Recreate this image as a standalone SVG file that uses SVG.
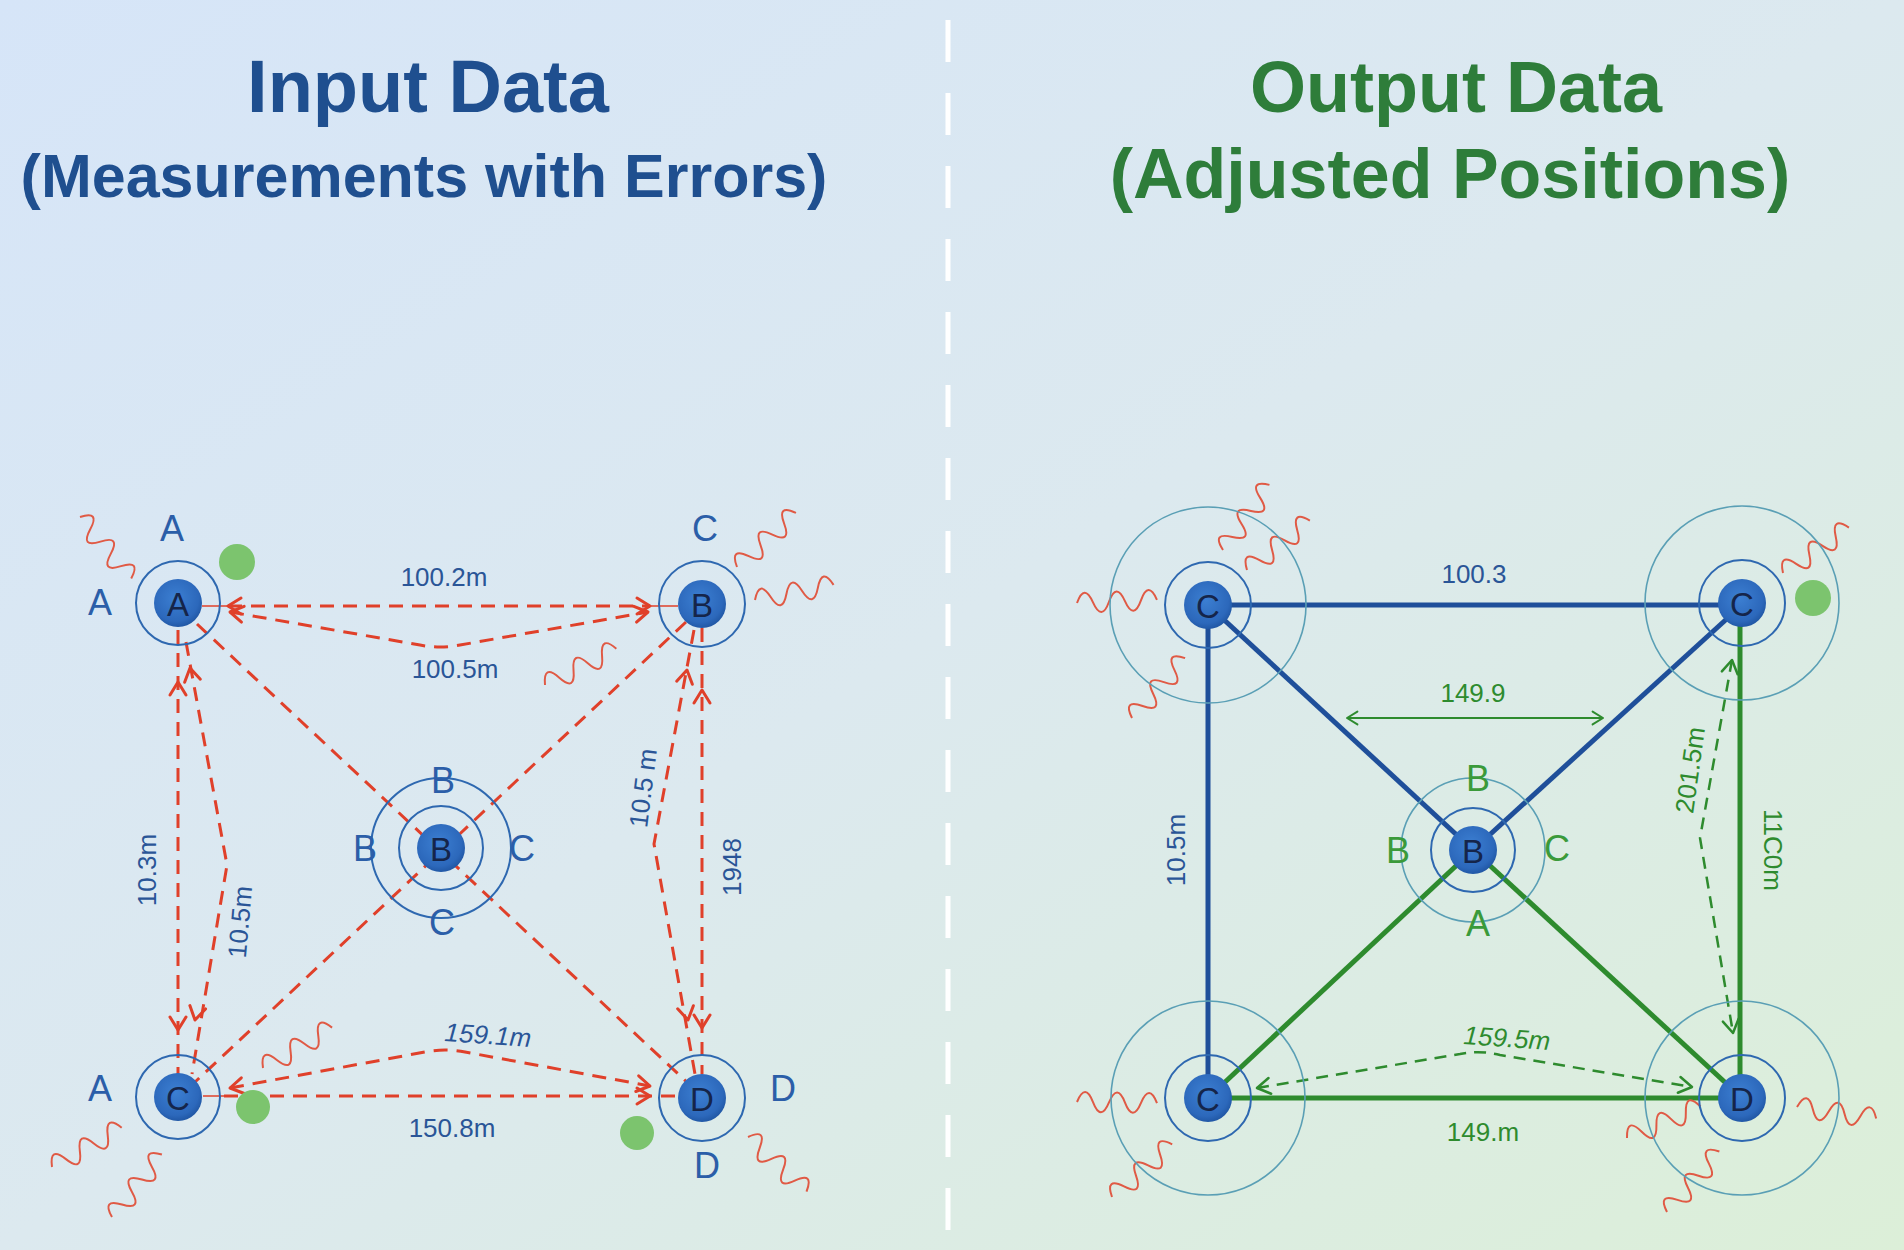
<svg xmlns="http://www.w3.org/2000/svg" xmlns:xlink="http://www.w3.org/1999/xlink" width="1904" height="1250" viewBox="0 0 1904 1250">
<defs>
<linearGradient id="bg" x1="0" y1="0" x2="1" y2="1">
<stop offset="0" stop-color="#d6e5f8"/>
<stop offset="0.5" stop-color="#dce9ef"/>
<stop offset="1" stop-color="#dcefd8"/>
</linearGradient>
<radialGradient id="nodefill" cx="0.45" cy="0.4" r="0.6">
<stop offset="0" stop-color="#3c7fd2"/>
<stop offset="0.8" stop-color="#2c68bb"/>
<stop offset="1" stop-color="#2158a6"/>
</radialGradient>
<path id="chev" d="M-13,-8 L0,0 L-13,8"/>
<path id="sq" d="M0,0 q8,-20 16,0 t16,0 t16,0 t16,0 t16,0"/>
<style>
.title{font-family:"Liberation Sans",Arial,sans-serif;font-weight:bold;text-anchor:middle}
.blueT{fill:#1f4f8f}
.greenT{fill:#2e7d3a}
.lbl{font-family:"Liberation Sans",Arial,sans-serif;font-size:36px;text-anchor:middle;dominant-baseline:central}
.lblB{fill:#2b5ea8}
.lblG{fill:#3a9a3a}
.meas{font-family:"Liberation Sans",Arial,sans-serif;font-size:26px;text-anchor:middle;dominant-baseline:central}
.mB{fill:#2a5597}
.mG{fill:#2e8b2e}
.nf{fill:url(#nodefill)}
.nt{font-family:"Liberation Sans",Arial,sans-serif;font-size:33px;fill:#15254a;text-anchor:middle;dominant-baseline:central}
.ring{fill:none;stroke:#2e68b0;stroke-width:2}
.oring{fill:none;stroke:#5a9fb5;stroke-width:1.6}
.rd{fill:none;stroke:#e0402a;stroke-width:3;stroke-dasharray:14 9}
.rthin{fill:none;stroke:#e0402a;stroke-width:1.5}
.rarr{fill:none;stroke:#e0402a;stroke-width:3;stroke-linecap:round;stroke-linejoin:round}
.garr{fill:none;stroke:#2e8b2e;stroke-width:2.5;stroke-linecap:round;stroke-linejoin:round}
.bl{fill:none;stroke:#1f4f9a;stroke-width:5}
.gl{fill:none;stroke:#2e8b2e;stroke-width:5}
.gthin{fill:none;stroke:#2e8b2e;stroke-width:2}
.gd{fill:none;stroke:#2e8b2e;stroke-width:2.5;stroke-dasharray:12 8}
.sqs{fill:none;stroke:#e05a45;stroke-width:2}
.dot{fill:#7cc46e}
</style>
</defs>
<rect width="1904" height="1250" fill="url(#bg)"/>
<line x1="948" y1="20" x2="948" y2="1250" stroke="#ffffff" stroke-width="5" stroke-dasharray="42 31"/>

<g id="titles">
<text class="title blueT" x="428" y="112" font-size="74">Input Data</text>
<text class="title blueT" x="424" y="197" font-size="61">(Measurements with Errors)</text>
<text class="title greenT" x="1456" y="112" font-size="72">Output Data</text>
<text class="title greenT" x="1450" y="198" font-size="70">(Adjusted Positions)</text>
</g>

<g id="connectors">
<!-- left panel -->
<line class="rthin" x1="202" y1="606" x2="228" y2="606"/>
<line class="rd" x1="228" y1="606" x2="650" y2="606"/>
<line class="rthin" x1="650" y1="606" x2="678" y2="606"/>
<path class="rd" d="M230 612 L420 645 Q440 649 460 645 L648 612"/>
<path class="rd" d="M197 624 L690 1085"/>
<path class="rd" d="M686 622 L195 1082"/>
<path class="rd" d="M178 630 L178 1074"/>
<path class="rd" d="M186 642 L227 865 L192 1074"/>
<path class="rd" d="M702 628 L702 1074"/>
<path class="rd" d="M694 630 L654 844 L695 1074"/>
<line class="rthin" x1="203" y1="1096" x2="224" y2="1096"/>
<line class="rd" x1="224" y1="1096" x2="678" y2="1096"/>
<path class="rd" d="M230 1088 L425 1052 Q445 1048 465 1052 L650 1086"/>
<g class="rarr">
<use xlink:href="#chev" transform="translate(228,606) rotate(180)"/>
<use xlink:href="#chev" transform="translate(650,606)"/>
<use xlink:href="#chev" transform="translate(230,612) rotate(189.7)"/>
<use xlink:href="#chev" transform="translate(648,612) rotate(-9.8)"/>
<use xlink:href="#chev" transform="translate(178,682) rotate(-90)"/>
<use xlink:href="#chev" transform="translate(178,1030) rotate(90)"/>
<use xlink:href="#chev" transform="translate(190,668) rotate(-101)"/>
<use xlink:href="#chev" transform="translate(195,1020) rotate(102)"/>
<use xlink:href="#chev" transform="translate(702,690) rotate(-90)"/>
<use xlink:href="#chev" transform="translate(702,1028) rotate(90)"/>
<use xlink:href="#chev" transform="translate(687,670) rotate(-79)"/>
<use xlink:href="#chev" transform="translate(688,1020) rotate(79)"/>
<use xlink:href="#chev" transform="translate(650,1096)"/>
<use xlink:href="#chev" transform="translate(230,1088) rotate(169.5)"/>
<use xlink:href="#chev" transform="translate(650,1086) rotate(10.4)"/>
</g>
<!-- right panel -->
<line class="bl" x1="1208" y1="605" x2="1742" y2="605"/>
<line class="bl" x1="1208" y1="605" x2="1208" y2="1098"/>
<line class="bl" x1="1208" y1="605" x2="1473" y2="850"/>
<line class="bl" x1="1742" y1="605" x2="1473" y2="850"/>
<line class="gl" x1="1473" y1="850" x2="1208" y2="1098"/>
<line class="gl" x1="1473" y1="850" x2="1742" y2="1098"/>
<line class="gl" x1="1208" y1="1098" x2="1742" y2="1098"/>
<line class="gl" x1="1740" y1="610" x2="1740" y2="1098"/>
<line class="gthin" x1="1347" y1="718" x2="1603" y2="718"/>
<path class="gd" d="M1732 660 L1700 838 L1733 1033"/>
<path class="gd" d="M1257 1088 L1460 1054 Q1480 1050 1500 1055 L1692 1087"/>
<g class="garr">
<use xlink:href="#chev" transform="translate(1347,718) rotate(180) scale(0.8)"/>
<use xlink:href="#chev" transform="translate(1603,718) scale(0.8)"/>
<use xlink:href="#chev" transform="translate(1732,660) rotate(-80)"/>
<use xlink:href="#chev" transform="translate(1733,1033) rotate(80)"/>
<use xlink:href="#chev" transform="translate(1257,1088) rotate(170.5)"/>
<use xlink:href="#chev" transform="translate(1692,1087) rotate(9.5)"/>
</g>
</g>

<g id="measurements">
<text class="meas mB" x="444" y="577">100.2m</text>
<text class="meas mB" x="455" y="669">100.5m</text>
<text class="meas mB" transform="translate(147,870) rotate(-90)">10.3m</text>
<text class="meas mB" transform="translate(240,922) rotate(-85)">10.5m</text>
<text class="meas mB" transform="translate(643,788) rotate(-83)">10.5 m</text>
<text class="meas mB" transform="translate(732,867) rotate(-90)">1948</text>
<text class="meas mB" font-style="italic" transform="translate(488,1035) rotate(4)">159.1m</text>
<text class="meas mB" x="452" y="1128">150.8m</text>
<text class="meas mB" x="1474" y="574">100.3</text>
<text class="meas mG" x="1473" y="693">149.9</text>
<text class="meas mB" transform="translate(1176,850) rotate(-90)">10.5m</text>
<text class="meas mG" transform="translate(1690,770) rotate(-82)">201.5m</text>
<text class="meas mG" transform="translate(1773,850) rotate(90)">11C0m</text>
<text class="meas mG" font-style="italic" transform="translate(1507,1038) rotate(4)">159.5m</text>
<text class="meas mG" x="1483" y="1132">149.m</text>
</g>

<g id="noise">
<g class="sqs">
<use xlink:href="#sq" transform="translate(80,517) rotate(50.2)"/>
<use xlink:href="#sq" transform="translate(737,567) rotate(-42.5)"/>
<use xlink:href="#sq" transform="translate(755,600) rotate(-10.9)"/>
<use xlink:href="#sq" transform="translate(545,685) rotate(-26.9)"/>
<use xlink:href="#sq" transform="translate(52,1167) rotate(-29.4)"/>
<use xlink:href="#sq" transform="translate(112,1217) rotate(-51.4)"/>
<use xlink:href="#sq" transform="translate(263,1068) rotate(-30.3)"/>
<use xlink:href="#sq" transform="translate(748,1137) rotate(43)"/>
<use xlink:href="#sq" transform="translate(1223,550) rotate(-54.5)"/>
<use xlink:href="#sq" transform="translate(1247,570) rotate(-38.2)"/>
<use xlink:href="#sq" transform="translate(1077,603) rotate(-2.3)"/>
<use xlink:href="#sq" transform="translate(1132,718) rotate(-48.4)"/>
<use xlink:href="#sq" transform="translate(1783,573) rotate(-34.5)"/>
<use xlink:href="#sq" transform="translate(1077,1102) rotate(0.8)"/>
<use xlink:href="#sq" transform="translate(1112,1197) rotate(-41.2)"/>
<use xlink:href="#sq" transform="translate(1627,1138) rotate(-23.2)"/>
<use xlink:href="#sq" transform="translate(1667,1212) rotate(-49.1)"/>
<use xlink:href="#sq" transform="translate(1797,1107) rotate(8.2)"/>
</g>
<circle class="dot" cx="237" cy="562" r="18"/>
<circle class="dot" cx="253" cy="1107" r="17"/>
<circle class="dot" cx="637" cy="1133" r="17"/>
<circle class="dot" cx="1813" cy="598" r="18"/>
</g>

<!-- left nodes -->
<g id="node-A">
<circle class="ring" cx="178" cy="603" r="42"/>
<circle class="nf" cx="178" cy="603" r="24"/>
<text class="nt" x="178" y="604">A</text>
<text class="lbl lblB" x="172" y="528">A</text>
<text class="lbl lblB" x="100" y="602">A</text>
</g>
<g id="node-B-top">
<circle class="ring" cx="702" cy="604" r="43"/>
<circle class="nf" cx="702" cy="604" r="24"/>
<text class="nt" x="702" y="605">B</text>
<text class="lbl lblB" x="705" y="528">C</text>
</g>
<g id="node-B-center">
<circle class="ring" cx="441" cy="848" r="70"/>
<circle class="ring" cx="441" cy="848" r="42"/>
<circle class="nf" cx="441" cy="848" r="24"/>
<text class="nt" x="441" y="849">B</text>
<text class="lbl lblB" x="443" y="780">B</text>
<text class="lbl lblB" x="365" y="848">B</text>
<text class="lbl lblB" x="522" y="848">C</text>
<text class="lbl lblB" x="442" y="922">C</text>
</g>
<g id="node-C-left">
<circle class="ring" cx="178" cy="1097" r="42"/>
<circle class="nf" cx="178" cy="1097" r="24"/>
<text class="nt" x="178" y="1098">C</text>
<text class="lbl lblB" x="100" y="1088">A</text>
</g>
<g id="node-D-left">
<circle class="ring" cx="702" cy="1098" r="43"/>
<circle class="nf" cx="702" cy="1098" r="24"/>
<text class="nt" x="702" y="1099">D</text>
<text class="lbl lblB" x="783" y="1088">D</text>
<text class="lbl lblB" x="707" y="1165">D</text>
</g>

<!-- right nodes -->
<g id="node-C-tl">
<circle class="oring" cx="1208" cy="605" r="98"/>
<circle class="ring" cx="1208" cy="605" r="43"/>
<circle class="nf" cx="1208" cy="605" r="24"/>
<text class="nt" x="1208" y="606">C</text>
</g>
<g id="node-C-tr">
<circle class="oring" cx="1742" cy="603" r="97"/>
<circle class="ring" cx="1742" cy="603" r="43"/>
<circle class="nf" cx="1742" cy="603" r="24"/>
<text class="nt" x="1742" y="604">C</text>
</g>
<g id="node-B-right">
<circle class="oring" cx="1473" cy="850" r="72"/>
<circle class="ring" cx="1473" cy="850" r="42"/>
<circle class="nf" cx="1473" cy="850" r="24"/>
<text class="nt" x="1473" y="851">B</text>
<text class="lbl lblG" x="1478" y="778">B</text>
<text class="lbl lblG" x="1398" y="850">B</text>
<text class="lbl lblG" x="1557" y="848">C</text>
<text class="lbl lblG" x="1478" y="923">A</text>
</g>
<g id="node-C-bl">
<circle class="oring" cx="1208" cy="1098" r="97"/>
<circle class="ring" cx="1208" cy="1098" r="43"/>
<circle class="nf" cx="1208" cy="1098" r="24"/>
<text class="nt" x="1208" y="1099">C</text>
</g>
<g id="node-D-br">
<circle class="oring" cx="1742" cy="1098" r="97"/>
<circle class="ring" cx="1742" cy="1098" r="43"/>
<circle class="nf" cx="1742" cy="1098" r="24"/>
<text class="nt" x="1742" y="1099">D</text>
</g>
</svg>
